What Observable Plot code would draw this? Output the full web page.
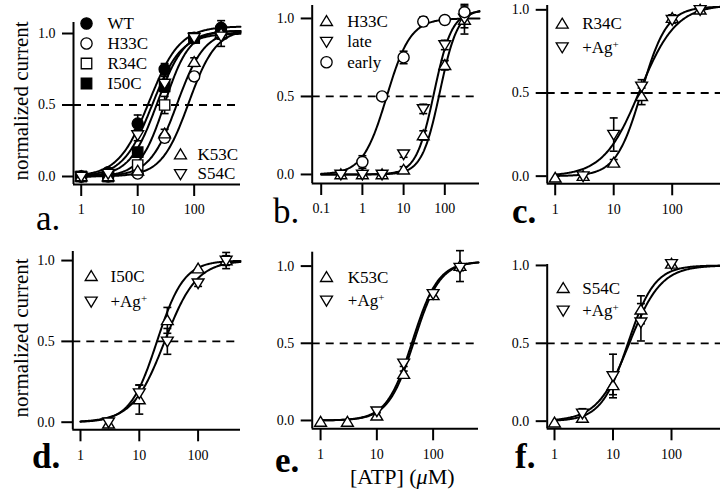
<!DOCTYPE html>
<html><head><meta charset="utf-8">
<script src="https://cdn.jsdelivr.net/npm/d3@7"></script>
<script src="https://cdn.jsdelivr.net/npm/@observablehq/plot@0.6"></script>
<style>
body{margin:0;background:#fff;}
#fig{position:relative;width:720px;height:491px;overflow:hidden;background:#fff;font-family:"Liberation Serif","Times New Roman","DejaVu Serif",serif;}
#fig svg{position:absolute;overflow:visible;}
#fig g[aria-label$="axis tick"]{stroke-width:2px;}
#fig g[aria-label="x-axis"] line,#fig g[aria-label="y-axis"] line{stroke-width:2px;}
</style></head><body><div id="fig"></div><script>
// ---------- data ----------
const conc = [1, 3, 10, 30, 100, 300];
const concB = [0.3, 1, 3, 10, 30, 100, 300];
const xTickLabels = [1, 10, 100];
const xTickLabelsB = [0.1, 1, 10, 100];
const yTickLabels = [0, 0.5, 1];

// panel a
const aNames = ["WT", "H33C", "R34C", "I50C", "K53C", "S54C"];
const aWT = [0, 0.03, 0.37, 0.75, 0.97, 1.04];
const aWTErr = [0, 0.01, 0.06, 0.04, 0.02, 0.05];
const aH33C = [0, 0, 0.02, 0.27, 0.70, 1.00];
const aH33CErr = [0, 0, 0.01, 0.03, 0.03, 0.04];
const aR34C = [0, 0, 0.08, 0.50, 0.97, 1.00];
const aR34CErr = [0, 0, 0.02, 0.06, 0.02, 0.03];
const aI50C = [0, 0, 0.17, 0.63, 0.97, 1.00];
const aI50CErr = [0, 0, 0.03, 0.04, 0.02, 0.03];
const aK53C = [0, 0, 0.04, 0.30, 0.80, 1.00];
const aK53CErr = [0, 0, 0.01, 0.03, 0.03, 0.03];
const aS54C = [0, 0.02, 0.29, 0.65, 0.97, 0.98];
const aS54CErr = [0, 0.01, 0.04, 0.05, 0.02, 0.07];
const aEC50 = [16, 80, 30, 22, 50, 18];
const aHill = [1.6, 1.8, 2.0, 1.8, 1.8, 1.7];
const aTop = [1.05, 1.03, 1.02, 1.02, 1.02, 1.0];

// panel b
const bNames = ["H33C", "late", "early"];
const bH33C = [0, 0, 0, 0.03, 0.25, 0.70, 0.99];
const bH33CErr = [0, 0, 0, 0.02, 0.03, 0.03, 0.09];
const bLate = [0, 0, 0, 0.13, 0.42, 0.83, 1.00];
const bLateErr = [0, 0, 0.01, 0.02, 0.03, 0.03, 0.06];
const bEarly = [null, 0.08, 0.50, 0.75, 0.98, 0.99, 1.04];
const bEarlyErr = [0, 0.04, 0.02, 0.04, 0.03, 0, 0.05];
const bEC50 = [76, 55, 3.9];
const bHill = [2.0, 2.0, 1.5];
const bTop = [1.06, 1.05, 1.0];

// panel c
const cNames = ["R34C", "+Ag⁺"];
const cR34C = [-0.01, 0, 0.08, 0.48, 0.95, 1.00];
const cR34CErr = [0, 0.01, 0.02, 0.05, 0.02, 0.02];
const cAg = [null, 0, 0.25, 0.54, 0.94, 1.00];
const cAgErr = [0, 0.01, 0.10, 0.04, 0.02, 0.02];
const cEC50 = [30, 28];
const cHill = [2.0, 1.4];
const cTop = [1.02, 1.03];

// panel d
const dNames = ["I50C", "+Ag⁺"];
const dI50C = [null, -0.01, 0.14, 0.63, 0.95, 1.00];
const dI50CErr = [0, 0, 0.09, 0.08, 0.01, 0.05];
const dAg = [null, 0, 0.18, 0.50, 0.86, 1.00];
const dAgErr = [0, 0, 0.05, 0.08, 0.02, 0.03];
const dEC50 = [20, 27];
const dHill = [1.9, 1.6];
const dTop = [1.0, 1.0];

// panel e
const eNames = ["K53C", "+Ag⁺"];
const eK53C = [-0.01, -0.01, 0.03, 0.30, 0.81, 1.00];
const eK53CErr = [0, 0, 0.02, 0.02, 0.02, 0.10];
const eAg = [null, null, 0.06, 0.37, 0.82, 0.99];
const eAgErr = [0, 0, 0.01, 0.02, 0.02, 0.02];
const eEC50 = [46, 43];
const eHill = [1.9, 1.9];
const eTop = [1.03, 1.03];

// panel f
const fNames = ["S54C", "+Ag⁺"];
const fS54C = [-0.01, 0.02, 0.23, 0.715, 1.01, null];
const fS54CErr = [0, 0.02, 0.06, 0.09, 0.01, 0];
const fAg = [null, 0.05, 0.29, 0.635, 1.01, null];
const fAgErr = [0, 0.03, 0.14, 0.12, 0.01, 0];
const fEC50 = [18, 19];
const fHill = [1.9, 1.6];
const fTop = [1.0, 1.0];

// ---------- symbols ----------
const sym = {
  circle: {draw(c, size){const r = Math.sqrt(size)*0.6; c.moveTo(r,0); c.arc(0,0,r,0,2*Math.PI); c.closePath();}},
  square: {draw(c, size){const h = Math.sqrt(size)*0.56; c.moveTo(-h,-h); c.lineTo(h,-h); c.lineTo(h,h); c.lineTo(-h,h); c.closePath();}},
  up: {draw(c, size){const s = Math.sqrt(size); c.moveTo(0,-0.6*s); c.lineTo(0.64*s,0.46*s); c.lineTo(-0.64*s,0.46*s); c.closePath();}},
  down: {draw(c, size){const s = Math.sqrt(size); c.moveTo(0,0.6*s); c.lineTo(0.64*s,-0.46*s); c.lineTo(-0.64*s,-0.46*s); c.closePath();}},
  cap: {draw(c, size){const s = Math.sqrt(size); c.moveTo(-0.45*s,0); c.lineTo(0.45*s,0);}}
};

function hill(ec, n, top, x0, x1) {
  const l0 = Math.log10(x0), l1 = Math.log10(x1), N = 200;
  return d3.range(N + 1).map(i => {
    const x = 10 ** (l0 + i * (l1 - l0) / N);
    return {x, y: top * x ** n / (x ** n + ec ** n)};
  });
}

// ---------- panels ----------
const panels = [
  {left:0, top:0, w:242, h:245, ml:73, mr:2, mt:22, mb:61,
   xDomain:[0.73, 661], yDomain:[-0.056, 1.077], ticks:xTickLabels, curveStart:1,
   series:[
     {name:aNames[0], x:conc, y:aWT, err:aWTErr, sym:"circle", fill:true, fit:[aEC50[0], aHill[0], aTop[0]]},
     {name:aNames[1], x:conc, y:aH33C, err:aH33CErr, sym:"circle", fill:false, fit:[aEC50[1], aHill[1], aTop[1]]},
     {name:aNames[2], x:conc, y:aR34C, err:aR34CErr, sym:"square", fill:false, fit:[aEC50[2], aHill[2], aTop[2]]},
     {name:aNames[3], x:conc, y:aI50C, err:aI50CErr, sym:"square", fill:true, fit:[aEC50[3], aHill[3], aTop[3]]},
     {name:aNames[4], x:conc, y:aK53C, err:aK53CErr, sym:"up", fill:false, fit:[aEC50[4], aHill[4], aTop[4]]},
     {name:aNames[5], x:conc, y:aS54C, err:aS54CErr, sym:"down", fill:false, fit:[aEC50[5], aHill[5], aTop[5]]}
   ],
   legends:[{items:[0,1,2,3], sx:13, tx:34, y0:1, dy:20}, {items:[4,5], sx:107, tx:124, y0:132, dy:19.5}]},
  {left:240, top:0, w:241, h:245, ml:71.7, mr:2, mt:5, mb:62,
   xDomain:[0.0605, 695], yDomain:[-0.058, 1.083], ticks:xTickLabelsB, curveStart:0.1,
   series:[
     {name:bNames[0], x:concB, y:bH33C, err:bH33CErr, sym:"up", fill:false, fit:[bEC50[0], bHill[0], bTop[0]]},
     {name:bNames[1], x:concB, y:bLate, err:bLateErr, sym:"down", fill:false, fit:[bEC50[1], bHill[1], bTop[1]]},
     {name:bNames[2], x:concB, y:bEarly, err:bEarlyErr, sym:"circle", fill:false, fit:[bEC50[2], bHill[2], bTop[2]]}
   ],
   legends:[{items:[0,1,2], sx:14.3, tx:35, y0:15.7, dy:20.5}]},
  {left:480, top:0, w:240, h:245, ml:66.7, mr:0, mt:5, mb:61.7,
   xDomain:[0.73, 669], yDomain:[-0.046, 1.026], ticks:xTickLabels, curveStart:1,
   series:[
     {name:cNames[0], x:conc, y:cR34C, err:cR34CErr, sym:"up", fill:false, fit:[cEC50[0], cHill[0], cTop[0]]},
     {name:cNames[1], x:conc, y:cAg, err:cAgErr, sym:"down", fill:false, fit:[cEC50[1], cHill[1], cTop[1]]}
   ],
   legends:[{items:[0,1], sx:15, tx:35, y0:18.3, dy:23.4}]},
  {left:0, top:245, w:242, h:246, ml:72.3, mr:2, mt:6, mb:61.7,
   xDomain:[0.74, 526], yDomain:[-0.047, 1.056], ticks:xTickLabels, curveStart:1,
   series:[
     {name:dNames[0], x:conc, y:dI50C, err:dI50CErr, sym:"up", fill:false, fit:[dEC50[0], dHill[0], dTop[0]]},
     {name:dNames[1], x:conc, y:dAg, err:dAgErr, sym:"down", fill:false, fit:[dEC50[1], dHill[1], dTop[1]]}
   ],
   legends:[{items:[0,1], sx:18.4, tx:37.7, y0:24.7, dy:25.3}]},
  {left:240, top:245, w:240, h:246, ml:71.7, mr:2, mt:6.7, mb:62.7,
   xDomain:[0.71, 640], yDomain:[-0.054, 1.09], ticks:xTickLabels, curveStart:1,
   series:[
     {name:eNames[0], x:conc, y:eK53C, err:eK53CErr, sym:"up", fill:false, fit:[eEC50[0], eHill[0], eTop[0]]},
     {name:eNames[1], x:conc, y:eAg, err:eAgErr, sym:"down", fill:false, fit:[eEC50[1], eHill[1], eTop[1]]}
   ],
   legends:[{items:[0,1], sx:14.3, tx:35.6, y0:25, dy:23.3}]},
  {left:480, top:245, w:240, h:246, ml:66.7, mr:0, mt:19, mb:62.7,
   xDomain:[0.75, 688], yDomain:[-0.049, 1.006], ticks:xTickLabels, curveStart:1,
   series:[
     {name:fNames[0], x:conc, y:fS54C, err:fS54CErr, sym:"up", fill:false, fit:[fEC50[0], fHill[0], fTop[0]]},
     {name:fNames[1], x:conc, y:fAg, err:fAgErr, sym:"down", fill:false, fit:[fEC50[1], fHill[1], fTop[1]]}
   ],
   legends:[{items:[0,1], sx:16, tx:35, y0:23.7, dy:22.3}]}
];

const fig = document.getElementById("fig");
const FONT = '"Liberation Serif","Times New Roman","DejaVu Serif",serif';

function buildPanel(p) {
  const marks = [];
  marks.push(Plot.ruleY([0.5], {strokeDasharray:"8,6", strokeWidth:1.8}));
  marks.push(Plot.ruleX([p.xDomain[0]], {strokeWidth:2}));
  marks.push(Plot.ruleY([p.yDomain[0]], {strokeWidth:2}));
  for (const s of p.series) {
    marks.push(Plot.line(hill(s.fit[0], s.fit[1], s.fit[2], p.curveStart, p.xDomain[1]),
      {x:"x", y:"y", stroke:"black", strokeWidth:2}));
  }
  for (const s of p.series) {
    const pts = s.x.map((x, i) => ({x, y:s.y[i], e:s.err[i]})).filter(d => d.y != null);
    const eb = pts.filter(d => d.e > 0.015);
    marks.push(Plot.ruleX(eb, {x:"x", y1:d => d.y - d.e, y2:d => d.y + d.e, stroke:"black", strokeWidth:1.6}));
    marks.push(Plot.dot(eb.flatMap(d => [{x:d.x, y:d.y - d.e}, {x:d.x, y:d.y + d.e}]),
      {x:"x", y:"y", symbol:sym.cap, r:5, stroke:"black", fill:"none", strokeWidth:1.6}));
  }
  for (const s of p.series) {
    const pts = s.x.map((x, i) => ({x, y:s.y[i]})).filter(d => d.y != null);
    marks.push(Plot.dot(pts, {x:"x", y:"y", symbol:sym[s.sym], r:5.2,
      fill:s.fill ? "black" : "white", stroke:"black", strokeWidth:1.4}));
  }
  for (const L of p.legends) {
    L.items.forEach((k, j) => {
      const s = p.series[k];
      marks.push(Plot.dot([s.name], {frameAnchor:"top-left", dx:L.sx, dy:L.y0 + j * L.dy,
        symbol:sym[s.sym], r:5.3, fill:s.fill ? "black" : "white", stroke:"black", strokeWidth:1.3}));
      marks.push(Plot.text([s.name], {frameAnchor:"top-left", dx:L.tx, dy:L.y0 + j * L.dy,
        text:d => d, textAnchor:"start", lineAnchor:"middle", fontSize:17}));
    });
  }
  const svg = Plot.plot({
    width:p.w, height:p.h,
    marginLeft:p.ml, marginRight:p.mr, marginTop:p.mt, marginBottom:p.mb,
    style:{fontFamily:FONT, fontSize:"14px", background:"none", overflow:"visible", color:"black"},
    x:{type:"log", domain:p.xDomain, ticks:p.ticks, tickFormat:d => String(d), tickSize:12, tickPadding:8, label:null},
    y:{domain:p.yDomain, ticks:yTickLabels, tickFormat:d3.format(".1f"), tickSize:11, tickPadding:7, label:null},
    marks
  });
  svg.style.left = p.left + "px";
  svg.style.top = p.top + "px";
  fig.appendChild(svg);
  // superscript plus in legend text
  d3.select(svg).selectAll("text").each(function(){
    const t = this.textContent;
    if (t && t.includes("⁺") && this.childNodes.length === 1) {
      const el = d3.select(this);
      el.text(t.replace("⁺", ""));
      el.append("tspan").attr("dy", "-0.45em").attr("font-size", "11px").text("+");
    }
  });
}
panels.forEach(buildPanel);

// ---------- labels ----------
const ov = d3.create("svg").attr("width", 720).attr("height", 491)
  .style("left", "0px").style("top", "0px").style("pointer-events", "none")
  .style("font-family", FONT);
const letters = [
  {t:"a.", x:36, y:230, bold:false}, {t:"b.", x:273, y:223, bold:false}, {t:"c.", x:512, y:223, bold:true},
  {t:"d.", x:32, y:468, bold:true}, {t:"e.", x:275, y:472, bold:true}, {t:"f.", x:515, y:468, bold:true}
];
letters.forEach(l => ov.append("text").attr("x", l.x).attr("y", l.y).attr("font-size", 35)
  .attr("font-weight", l.bold ? "bold" : "normal").text(l.t));
[101, 338].forEach(cy => ov.append("text").attr("transform", `translate(28,${cy}) rotate(-90)`)
  .attr("text-anchor", "middle").attr("font-size", 21).text("normalized current"));
const xl = ov.append("text").attr("x", 350).attr("y", 484).attr("font-size", 22);
xl.append("tspan").text("[ATP] (");
xl.append("tspan").attr("font-style", "italic").text("μ");
xl.append("tspan").text("M)");
fig.appendChild(ov.node());
</script></body></html>
